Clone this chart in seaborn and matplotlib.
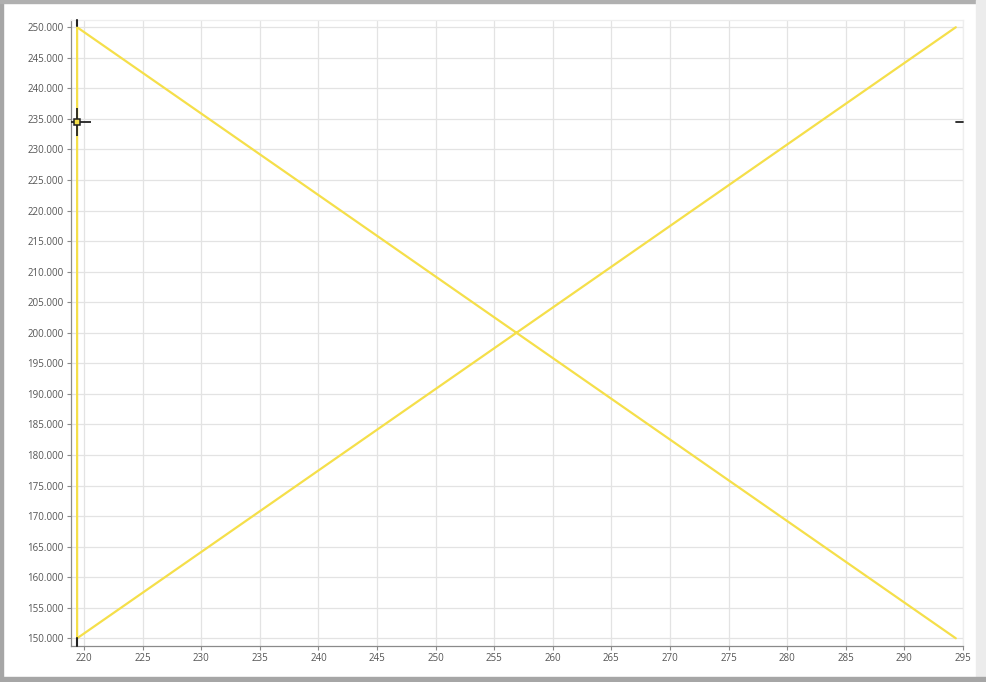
import matplotlib
matplotlib.use("Agg")
import numpy as np
import pandas as pd
import seaborn as sns
from matplotlib import pyplot as plt
from matplotlib.ticker import FuncFormatter, MultipleLocator
from matplotlib.patches import Rectangle

# data: one polyline drawn through four points
x_vals = [294.4, 219.4, 219.4, 294.4]
y_vals = [250000, 150000, 250000, 150000]
cursor_x = 219.4
cursor_y = 234450

df = pd.DataFrame({"x": x_vals, "y": y_vals})

sns.set_style("white")
plt.rcParams['font.family'] = ['Open Sans', 'DejaVu Sans']

fig = plt.figure(figsize=(9.87, 6.82), dpi=100)
fig.patch.set_facecolor("white")

# window-ish border
fig.patches.append(Rectangle((0, 0), 0.003, 1, transform=fig.transFigure, color="#a6a6a6", zorder=0))
fig.patches.append(Rectangle((0, 0.996), 1, 0.004, transform=fig.transFigure, color="#b0b0b0", zorder=0))
fig.patches.append(Rectangle((0.989, 0), 0.011, 1, transform=fig.transFigure, color="#ececec", zorder=0))
fig.patches.append(Rectangle((0, 0), 1, 0.007, transform=fig.transFigure, color="#a6a6a6", zorder=0))

ax = fig.add_axes([0.0716, 0.0528, 0.9045, 0.918])
sns.lineplot(data=df, x="x", y="y", sort=False, estimator=None,
             color="#f5df4a", linewidth=1.6, ax=ax)

ax.set_xlim(218.85, 295.05)
ax.set_ylim(148740, 251200)
ax.xaxis.set_major_locator(MultipleLocator(5))
ax.yaxis.set_major_locator(MultipleLocator(5000))
ax.yaxis.set_major_formatter(FuncFormatter(lambda v, p: f"{v:,.0f}".replace(",", ".")))
ax.grid(True, color="#e3e3e3", linewidth=0.9)
ax.set_axisbelow(True)
ax.set_xlabel("")
ax.set_ylabel("")

for s in ["left", "bottom"]:
    ax.spines[s].set_color("#8a8a8a")
    ax.spines[s].set_linewidth(0.9)
for s in ["top", "right"]:
    ax.spines[s].set_color("#eeeeee")
    ax.spines[s].set_linewidth(0.9)

ax.tick_params(axis="both", which="major", direction="out", length=3, width=0.8,
               color="#8a8a8a", labelsize=7, labelcolor="#555555", pad=2,
               left=True, bottom=True)

# cursor: crosshair and edge markers
ax.plot([cursor_x], [cursor_y], marker="+", markersize=20, markeredgewidth=1.3,
        color="#222222", zorder=5)
ax.plot([cursor_x], [cursor_y], marker="s", markersize=4.5, markerfacecolor="#f5df4a",
        markeredgecolor="#222222", markeredgewidth=1.1, zorder=6)
trans_x = ax.get_xaxis_transform()
trans_y = ax.get_yaxis_transform()
ax.plot([cursor_x, cursor_x], [0.99, 1.0], transform=trans_x, color="#222222", lw=1.5, clip_on=False, zorder=7)
ax.plot([cursor_x, cursor_x], [0.0, 0.013], transform=trans_x, color="#222222", lw=1.5, clip_on=False, zorder=7)
ax.plot([0.992, 1.0], [cursor_y, cursor_y], transform=trans_y, color="#222222", lw=1.3, clip_on=False, zorder=7)

plt.savefig("out.png", dpi=100)
